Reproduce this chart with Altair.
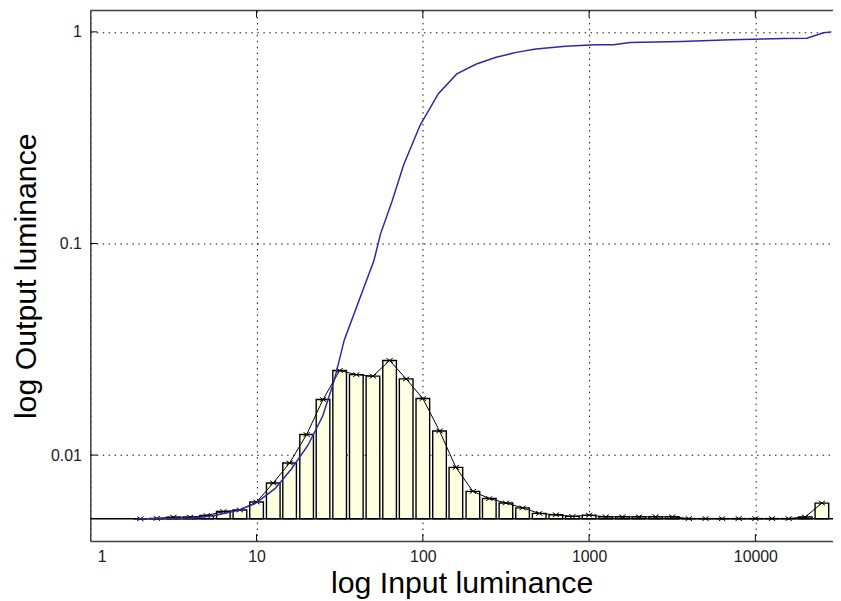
import altair as alt
import pandas as pd

# ---- data ----
bin_centers = [2.0, 2.51, 3.16, 3.98, 5.01, 6.31, 7.94, 10.0, 12.6, 15.8, 20.0, 25.1,
               31.6, 39.8, 50.1, 63.1, 79.4, 100, 126, 158, 200, 251, 316, 398, 501,
               631, 794, 1000, 1259, 1585, 1995, 2512, 3162, 3981, 5012, 6310, 7943,
               10000, 12589, 15849, 19953, 25119]
bin_values = [0.00500, 0.00502, 0.00509, 0.00509, 0.00518, 0.00541, 0.00550, 0.00600,
              0.00738, 0.00918, 0.0125, 0.0183, 0.0251, 0.0240, 0.0236, 0.0280, 0.0229,
              0.0185, 0.0130, 0.00875, 0.00674, 0.00623, 0.00594, 0.00563, 0.00530,
              0.00522, 0.00513, 0.00520, 0.00511, 0.00511, 0.00511, 0.00511, 0.00511,
              0.00501, 0.00501, 0.00501, 0.00501, 0.00501, 0.00501, 0.00501, 0.00510,
              0.00593]
curve_x = [1.95, 3.9, 5.5, 7.8, 9.8, 12.9, 16.2, 20.3, 25.0, 29.4, 33.7, 50.8, 55.6,
           65.3, 76.7, 96.4, 124, 160, 210, 276, 364, 479, 722, 1089, 1402, 1763, 3586,
           7125, 14820, 20400, 25660, 28640]
curve_y = [0.0050, 0.00502, 0.00517, 0.00549, 0.0059, 0.00694, 0.0086, 0.01107, 0.0153,
           0.02273, 0.035, 0.083, 0.1107, 0.1585, 0.2355, 0.3627, 0.51, 0.633, 0.705,
           0.758, 0.80, 0.829, 0.856, 0.869, 0.869, 0.891, 0.9006, 0.917, 0.93, 0.933,
           0.99, 1.0]
x_ticks = [1, 10, 100, 1000, 10000]
y_ticks = [0.01, 0.1, 1]
baseline = 0.005
bar_half_width = 10 ** 0.041  # multiplicative half width of each bar

W, H = 749, 535
FONT = "Liberation Sans"
BORDER = "#404040"

bars = pd.DataFrame({
    "x": bin_centers,
    "x0": [c / bar_half_width for c in bin_centers],
    "x1": [c * bar_half_width for c in bin_centers],
    "y": bin_values,
    "base": [baseline] * len(bin_centers),
})
curve = pd.DataFrame({"x": curve_x, "y": curve_y})
xt = pd.DataFrame({"x": x_ticks[1:]})
yt = pd.DataFrame({"y": y_ticks})
base_df = pd.DataFrame({"y": [baseline]})

xscale = alt.Scale(type="log", domain=[1, 29300], nice=False)
yscale = alt.Scale(type="log", domain=[0.003926, 1.2618], nice=False)

xaxis = alt.Axis(
    values=x_ticks, format="~g", grid=True, gridDash=[1.5, 4.5], gridColor="#111",
    gridOpacity=1, gridWidth=1, ticks=False, domain=True, domainColor=BORDER,
    domainWidth=1.5, labelFont=FONT, labelFontSize=16, labelColor="#222",
    labelPadding=8, labelFlush=True, labelFlushOffset=-7,
    title="log Input luminance", titleFont=FONT, titleFontSize=30.5,
    titleFontWeight="normal", titleColor="#000", titleX=W / 2, titleY=52,
    titleAlign="center", titleBaseline="alphabetic",
)
yaxis = alt.Axis(
    values=y_ticks, format="~g", grid=True, gridDash=[1.5, 4.5], gridColor="#111",
    gridOpacity=1, gridWidth=1, ticks=False, domain=True, domainColor=BORDER,
    domainWidth=1.5, labelFont=FONT, labelFontSize=16, labelColor="#222",
    labelPadding=9,
    title="log Output luminance", titleFont=FONT, titleFontSize=30.5,
    titleFontWeight="normal", titleColor="#000", titleX=-55, titleY=H / 2,
    titleAngle=270, titleAlign="center", titleBaseline="alphabetic",
)


def X(field):
    return alt.X(field, type="quantitative", scale=xscale, axis=xaxis)


def Y(field):
    return alt.Y(field, type="quantitative", scale=yscale, axis=yaxis)


bar_layer = alt.Chart(bars).mark_rect(
    fill="#FFFFE2", stroke="#000", strokeWidth=1.4
).encode(x=X("x0"), x2="x1:Q", y=Y("base"), y2="y:Q")

base_rule = alt.Chart(base_df).mark_rule(color="#000", strokeWidth=1.5).encode(
    y=Y("y"), x=alt.value(0), x2=alt.value(W)
)

hist_line = alt.Chart(bars).mark_line(color="#000", strokeWidth=1).encode(
    x=X("x"), y=Y("y")
)
hist_pts = alt.Chart(bars).mark_point(
    shape="M-1,-0.7L1,0.7M-1,0.7L1,-0.7", size=40, filled=False,
    color="#000", strokeWidth=1, opacity=1
).encode(x=X("x"), y=Y("y"))

curve_line = alt.Chart(curve).mark_line(color="#2A2AA8", strokeWidth=1.5).encode(
    x=X("x"), y=Y("y")
)

top_border = alt.Chart(base_df).mark_rule(color=BORDER, strokeWidth=1.5).encode(
    x=alt.value(0), x2=alt.value(W), y=alt.value(0)
)
xticks_bottom = alt.Chart(xt).mark_rule(color="#000", strokeWidth=1).encode(
    x=X("x"), y=alt.value(H), y2=alt.value(H - 7)
)
xticks_top = alt.Chart(xt).mark_rule(color="#000", strokeWidth=1).encode(
    x=X("x"), y=alt.value(0), y2=alt.value(7)
)
yticks_left = alt.Chart(yt).mark_rule(color="#000", strokeWidth=1).encode(
    y=Y("y"), x=alt.value(0), x2=alt.value(7)
)

chart = alt.layer(
    bar_layer, base_rule, hist_line, hist_pts, curve_line,
    top_border, xticks_bottom, xticks_top, yticks_left
).properties(
    width=W, height=H,
    autosize=alt.AutoSizeParams(type="none"),
    padding={"left": 83, "top": 0, "right": 0, "bottom": 58},
    background="white",
).configure_view(strokeWidth=0, stroke=None)

chart.save("out.html", embed_options={"renderer": "svg", "actions": False})
